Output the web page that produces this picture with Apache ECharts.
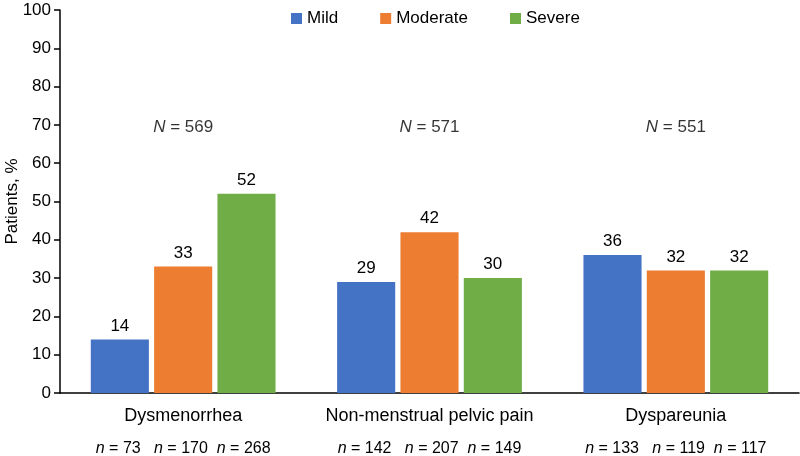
<!DOCTYPE html>
<html><head><meta charset="utf-8">
<script src="https://cdn.jsdelivr.net/npm/echarts@6/dist/echarts.min.js"></script>
<style>html,body{margin:0;padding:0;background:#fff}#c{width:800px;height:456px}</style>
</head><body><div id="c"></div>
<script>
const categories = ['Dysmenorrhea', 'Non-menstrual pelvic pain', 'Dyspareunia'];
const mild = [14, 29, 36];
const moderate = [33, 42, 32];
const severe = [52, 30, 32];
const totalN = [569, 571, 551];
const nMild = [73, 142, 133];
const nModerate = [170, 207, 119];
const nSevere = [268, 149, 117];
const yTicks = [0, 10, 20, 30, 40, 50, 60, 70, 80, 90, 100];
const nLabelLevel = 69.5;

const chart = echarts.init(document.getElementById('c'));
const font = 'Liberation Sans, Arial, sans-serif';
const barLabel = {show: true, position: 'top', fontSize: 17, color: '#000', fontFamily: font, distance: 5};
chart.setOption({
  animation: false,
  textStyle: {fontFamily: font},
  legend: {
    top: 5, left: 286, itemWidth: 11, itemHeight: 11, itemGap: 42,
    icon: 'rect', textStyle: {fontSize: 17, color: '#000', fontFamily: font},
    data: ['Mild', 'Moderate', 'Severe']
  },
  grid: {left: 60, right: 1, top: 10, bottom: 63, containLabel: false, outerBoundsMode: 'none'},
  xAxis: {
    type: 'category', data: categories,
    axisTick: {show: false},
    axisLine: {lineStyle: {color: '#000', width: 1.5}},
    axisLabel: {
      interval: 0, margin: 12, color: '#000',
      formatter: function (v, i) {
        return '{c|' + v + '}\n{i|n}{t| = ' + nMild[i] + '   }{i|n}{t| = ' + nModerate[i] + '  }{i|n}{t| = ' + nSevere[i] + '}';
      },
      rich: {
        c: {fontSize: 18, lineHeight: 22, color: '#000', fontFamily: font},
        i: {fontSize: 16, fontStyle: 'italic', lineHeight: 44, color: '#000', fontFamily: font},
        t: {fontSize: 16, lineHeight: 44, color: '#000', fontFamily: font}
      }
    }
  },
  yAxis: {
    type: 'value', min: yTicks[0], max: yTicks[yTicks.length - 1], interval: 10,
    name: 'Patients, %', nameLocation: 'middle', nameGap: 39, nameMoveOverlap: false,
    nameTextStyle: {fontSize: 17, color: '#000', fontFamily: font},
    splitLine: {show: false},
    axisLine: {show: true, lineStyle: {color: '#000', width: 1.5}},
    axisTick: {show: true, length: 6, lineStyle: {color: '#000', width: 1.5}},
    axisLabel: {fontSize: 17, color: '#000', margin: 9, fontFamily: font}
  },
  series: [
    {name: 'Mild', type: 'bar', data: mild, itemStyle: {color: '#4472C4'}, barGap: '9%', barCategoryGap: '25%', label: barLabel},
    {name: 'Moderate', type: 'bar', data: moderate, itemStyle: {color: '#ED7D31'}, label: barLabel},
    {name: 'Severe', type: 'bar', data: severe, itemStyle: {color: '#70AD47'}, label: barLabel},
    {
      type: 'scatter', symbolSize: 0, silent: true,
      data: totalN.map(function (n, i) { return [categories[i], nLabelLevel]; }),
      label: {
        show: true, position: 'inside',
        formatter: function (p) { return '{i|N}{t| = ' + totalN[p.dataIndex] + '}'; },
        rich: {
          i: {fontSize: 17, fontStyle: 'italic', color: '#000', fontFamily: font},
          t: {fontSize: 17, color: '#000', fontFamily: font}
        }
      }
    }
  ]
});
</script></body></html>
